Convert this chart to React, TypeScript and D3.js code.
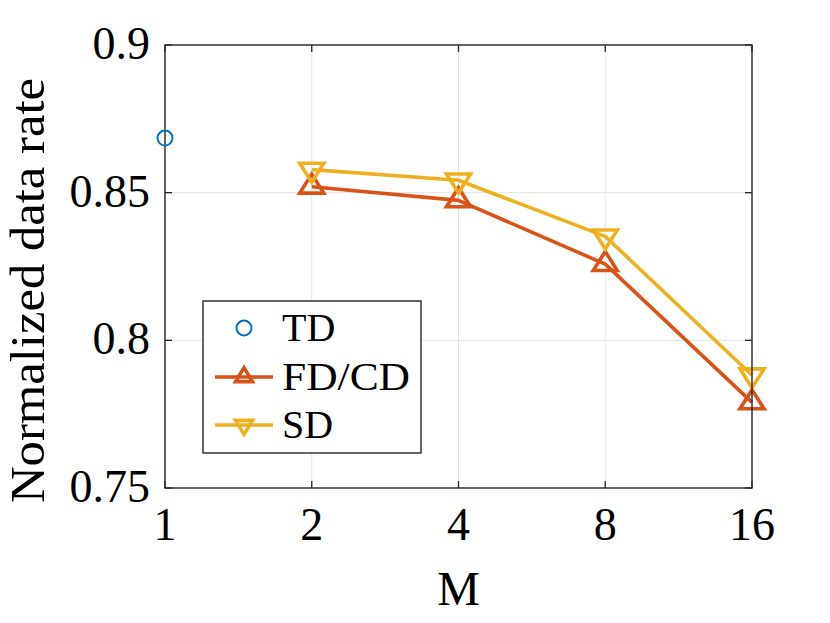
import * as d3 from "d3";

// Values
const mTicks = [1, 2, 4, 8, 16];
const rateTicks = [0.75, 0.8, 0.85, 0.9];
const rateTickLabels = ["0.75", "0.8", "0.85", "0.9"];

const tdM = [1];
const tdRate = [0.8685];

const fdM = [2, 4, 8, 16];
const fdRate = [0.852, 0.8474, 0.8258, 0.779];

const sdM = [2, 4, 8, 16];
const sdRate = [0.8578, 0.8542, 0.8352, 0.7882];

const seriesNames = ["TD", "FD/CD", "SD"];
const colors = ["#0072BD", "#D95319", "#EDB120"];

const width = 830;
const height = 623;
const plot = { left: 165, right: 752, top: 45, bottom: 488 };
const font = `"Liberation Serif", "Times New Roman", serif`;
const axisColor = "#262626";
const gridColor = "#e3e3e3";

type Pt = { m: number; r: number };

function trianglePath(w: number, h: number, up: boolean) {
  const s = up ? 1 : -1;
  return `M0,${(-2 * h * s) / 3}L${w / 2},${(h * s) / 3}L${-w / 2},${(h * s) / 3}Z`;
}

export default function App() {
  const x = d3.scaleLog().base(2).domain([1, 16]).range([plot.left, plot.right]);
  const y = d3.scaleLinear().domain([0.75, 0.9]).range([plot.bottom, plot.top]);

  const line = d3
    .line<Pt>()
    .x((d) => x(d.m))
    .y((d) => y(d.r));

  const td: Pt[] = tdM.map((m, i) => ({ m, r: tdRate[i] }));
  const fd: Pt[] = fdM.map((m, i) => ({ m, r: fdRate[i] }));
  const sd: Pt[] = sdM.map((m, i) => ({ m, r: sdRate[i] }));

  const triUp = trianglePath(24, 19, true);
  const triDown = trianglePath(24, 19, false);
  const triUpSmall = trianglePath(17, 14, true);
  const triDownSmall = trianglePath(17, 14, false);

  const tickLen = 7;
  const legend = { x: 203, y: 301, w: 218, h: 152 };
  const rowY = [328, 377, 425];
  const txt = { fontFamily: font };

  return (
    <svg width={width} height={height} style={{ position: "absolute", left: 0, top: 0, background: "#fff" }}>
      <rect x={plot.left} y={plot.top} width={plot.right - plot.left} height={plot.bottom - plot.top} fill="#fff" />

      {/* grid */}
      {mTicks.slice(1, -1).map((m) => (
        <line key={"gx" + m} x1={x(m)} x2={x(m)} y1={plot.top} y2={plot.bottom} stroke={gridColor} strokeWidth={1} />
      ))}
      {rateTicks.slice(1, -1).map((r) => (
        <line key={"gy" + r} x1={plot.left} x2={plot.right} y1={y(r)} y2={y(r)} stroke={gridColor} strokeWidth={1} />
      ))}

      {/* ticks on all four sides */}
      {mTicks.map((m) => (
        <g key={"tx" + m} stroke={axisColor} strokeWidth={1.3}>
          <line x1={x(m)} x2={x(m)} y1={plot.bottom} y2={plot.bottom - tickLen} />
          <line x1={x(m)} x2={x(m)} y1={plot.top} y2={plot.top + tickLen} />
        </g>
      ))}
      {rateTicks.map((r) => (
        <g key={"ty" + r} stroke={axisColor} strokeWidth={1.3}>
          <line x1={plot.left} x2={plot.left + tickLen} y1={y(r)} y2={y(r)} />
          <line x1={plot.right} x2={plot.right - tickLen} y1={y(r)} y2={y(r)} />
        </g>
      ))}

      {/* series */}
      <path d={line(fd) ?? ""} fill="none" stroke={colors[1]} strokeWidth={3.6} strokeLinejoin="round" />
      <path d={line(sd) ?? ""} fill="none" stroke={colors[2]} strokeWidth={3.6} strokeLinejoin="round" />
      {fd.map((d, i) => (
        <path key={"fm" + i} d={triUp} transform={`translate(${x(d.m)},${y(d.r)})`} fill="none" stroke={colors[1]} strokeWidth={3.6} />
      ))}
      {sd.map((d, i) => (
        <path key={"sm" + i} d={triDown} transform={`translate(${x(d.m)},${y(d.r)})`} fill="none" stroke={colors[2]} strokeWidth={3.6} />
      ))}

      {/* axes box */}
      <rect
        x={plot.left}
        y={plot.top}
        width={plot.right - plot.left}
        height={plot.bottom - plot.top}
        fill="none"
        stroke={axisColor}
        strokeWidth={1.4}
      />

      {td.map((d, i) => (
        <circle key={"tm" + i} cx={x(d.m)} cy={y(d.r)} r={7.5} fill="none" stroke={colors[0]} strokeWidth={2} />
      ))}

      {/* tick labels */}
      {mTicks.map((m) => (
        <text key={"lx" + m} x={x(m)} y={540} fontSize={46} textAnchor="middle" fill="#000" style={txt}>
          {m}
        </text>
      ))}
      {rateTicks.map((r, i) => (
        <text key={"ly" + r} x={150} y={y(r) + 14} fontSize={46} textAnchor="end" fill="#000" style={txt}>
          {rateTickLabels[i]}
        </text>
      ))}

      {/* axis labels */}
      <text x={(plot.left + plot.right) / 2} y={605} fontSize={48} textAnchor="middle" fill="#000" style={txt}>
        M
      </text>
      <text
        transform={`translate(44, ${(plot.top + plot.bottom) / 2 + 24}) rotate(-90)`}
        fontSize={48}
        textAnchor="middle"
        textLength={425}
        lengthAdjust="spacingAndGlyphs"
        fill="#000"
        style={txt}
      >
        Normalized data rate
      </text>

      {/* legend */}
      <rect x={legend.x} y={legend.y} width={legend.w} height={legend.h} fill="#fff" stroke={axisColor} strokeWidth={1.4} />
      <circle cx={244} cy={rowY[0]} r={7.5} fill="none" stroke={colors[0]} strokeWidth={2} />
      <line x1={215} x2={273} y1={rowY[1]} y2={rowY[1]} stroke={colors[1]} strokeWidth={3.6} />
      <path d={triUpSmall} transform={`translate(244,${rowY[1]})`} fill="none" stroke={colors[1]} strokeWidth={3.6} />
      <line x1={215} x2={273} y1={rowY[2]} y2={rowY[2]} stroke={colors[2]} strokeWidth={3.6} />
      <path d={triDownSmall} transform={`translate(244,${rowY[2]})`} fill="none" stroke={colors[2]} strokeWidth={3.6} />
      {seriesNames.map((name, i) => (
        <text
          key={name}
          x={282}
          y={rowY[i] + 13}
          fontSize={40}
          fill="#000"
          style={txt}
          {...(name === "FD/CD" ? { textLength: 128, lengthAdjust: "spacingAndGlyphs" } : {})}
        >
          {name}
        </text>
      ))}
    </svg>
  );
}
